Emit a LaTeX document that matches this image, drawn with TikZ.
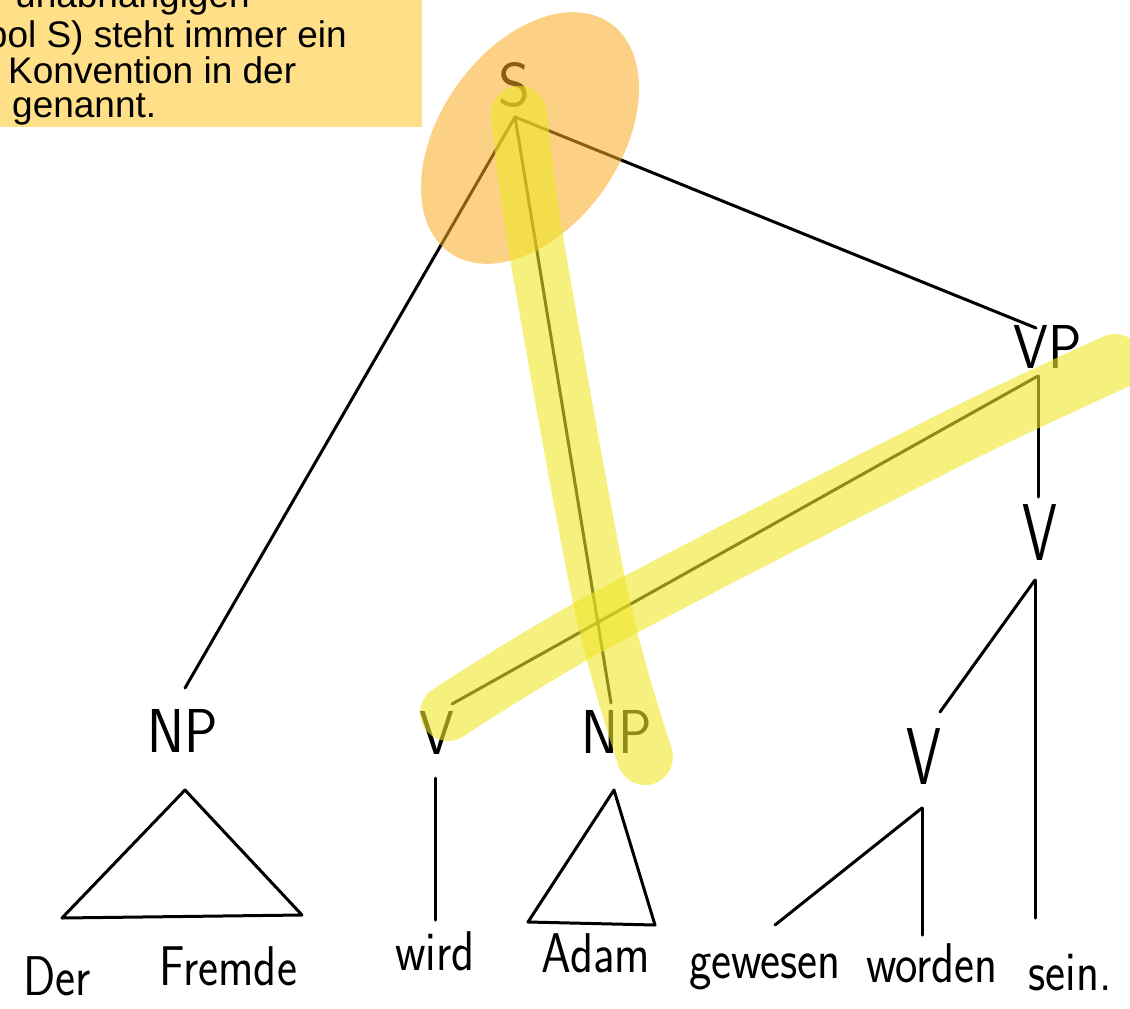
\documentclass[tikz,border=0pt]{standalone}
\usepackage{fontspec}
\newfontfamily\boxfont{Liberation Sans}
\definecolor{boxfill}{RGB}{255,223,136}
\definecolor{hlyellow}{RGB}{240,230,40}
\definecolor{blob}{RGB}{250,172,35}
\tikzset{
  boxtxt/.style={font=\boxfont\fontsize{37}{39}\selectfont, inner sep=0pt, text=black},
  lab/.style={font=\sffamily\fontsize{62}{62}\selectfont, inner sep=0pt, xscale=0.9},
  tallv/.style={lab, yscale=1.3},
  word/.style={font=\sffamily\fontsize{56}{56}\selectfont, inner sep=0pt, anchor=base, xscale=0.85},
  branch/.style={draw=black, line width=3pt, line cap=round, line join=round},
  hl/.style={draw=hlyellow, draw opacity=0.6, line width=56pt, line cap=round, line join=round},
}
\begin{document}
\begin{tikzpicture}[x=1pt,y=-1pt]
\useasboundingbox (0,0) rectangle (1130,1009);
\fill[white] (0,0) rectangle (1130,1009);

% note box
\fill[boxfill] (0,0) rectangle (422,127);
\begin{scope}
\clip (0,0) rectangle (422,127);
\node[boxtxt, anchor=base west] (t1) at (15,8) {unabhängigen};
\node[boxtxt, anchor=base east] (t2) at (347,47) {bol S) steht immer ein};
\node[boxtxt, anchor=base west] (t3) at (8,83) {Konvention in der};
\node[boxtxt, anchor=base west] (t4) at (12,117) {genannt.};
\end{scope}

% labels
\node[lab, xscale=1.1] (S) at (515,85) {S};
\node[lab] (NP1) at (183,731) {NP};
\node[lab] (V1) at (437,733) {V};
\node[lab] (NP2) at (617,732) {NP};
\node[lab] (VP) at (1048,347) {VP};
\node[tallv] (V2) at (1040,533) {V};
\node[tallv] (V3) at (924,757) {V};

% attachment points
\coordinate (Sf) at (515,117);
\coordinate (NP1t) at (185,688);
\coordinate (NP2t) at (611,703);
\coordinate (V1t) at (452,704);
\coordinate (VPt) at (1036,328);
\coordinate (VPb) at (1038,376);
\coordinate (V2t) at (1038,497);
\coordinate (V2b) at (1035,580);
\coordinate (V3t) at (940,712);
\coordinate (V3b) at (922,808);
\coordinate (NP1b) at (185,790);
\coordinate (V1b) at (435,778);
\coordinate (NP2b) at (614,790);

% branches
\draw[branch] (Sf) -- (NP1t);
\draw[branch] (Sf) -- (NP2t);
\draw[branch] (Sf) -- (VPt);
\draw[branch] (V1t) -- (VPb);
\draw[branch] (VPb) -- (V2t);
\draw[branch] (V2b) -- (V3t);
\draw[branch] (V2b) -- (1035,918);
\draw[branch] (V3b) -- (775,925);
\draw[branch] (V3b) -- (922,935);
\draw[branch] (NP1b) -- (62,918) -- (302,915) -- cycle;
\draw[branch] (V1b) -- (435,920);
\draw[branch] (NP2b) -- (528,922) -- (655,925) -- cycle;

% words
\node[word] (w1) at (57,995) {Der};
\node[word] (w2) at (228,985) {Fremde};
\node[word] (w3) at (435,970) {wird};
\node[word] (w4) at (596,972) {Adam};
\node[word] (w5) at (765,978) {gewesen};
\node[word] (w6) at (932,982) {worden};
\node[word] (w7) at (1070,990) {sein.};

% highlights
\fill[blob, opacity=0.55, rotate around={55:(530,138)}] (530,138) ellipse [x radius=140pt, y radius=90pt];
\draw[hl] plot[smooth] coordinates {(519,114) (537,250) (601,600) (645,757)};
\draw[hl] plot[smooth] coordinates {(448,713) (598,622) (950,440) (1115,362)};
\end{tikzpicture}
\end{document}
